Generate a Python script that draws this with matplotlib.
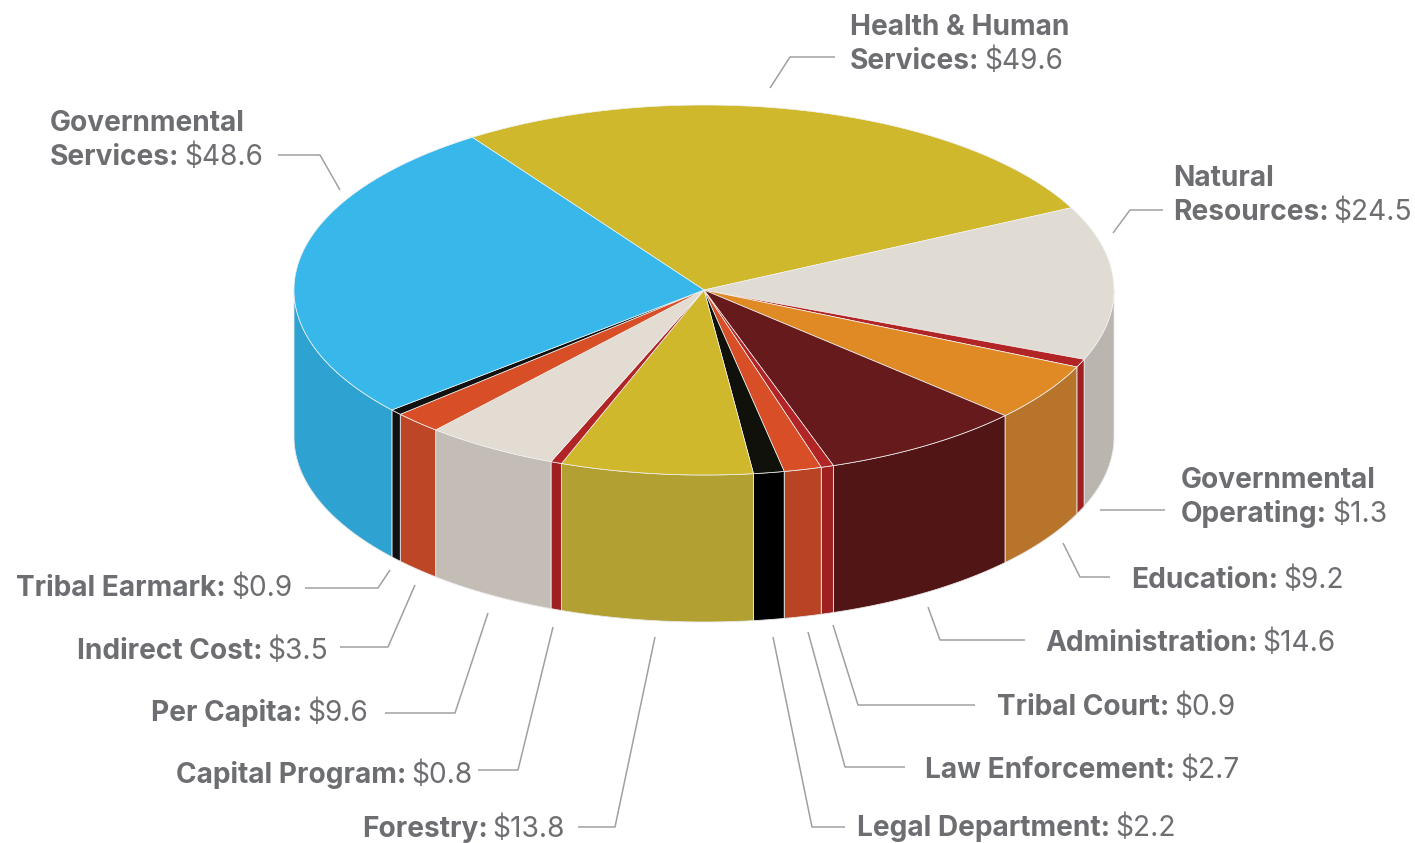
import numpy as np
import matplotlib
matplotlib.use('Agg')
import matplotlib.pyplot as plt
from matplotlib.patches import Polygon

# ---------------- data ----------------
categories = ["Health & Human Services", "Natural Resources", "Governmental Operating",
              "Education", "Administration", "Tribal Court", "Law Enforcement",
              "Legal Department", "Forestry", "Capital Program", "Per Capita",
              "Indirect Cost", "Tribal Earmark", "Governmental Services"]
values = [49.6, 24.5, 1.3, 9.2, 14.6, 0.9, 2.7, 2.2, 13.8, 0.8, 9.6, 3.5, 0.9, 48.6]
value_labels = ["$49.6", "$24.5", "$1.3", "$9.2", "$14.6", "$0.9", "$2.7", "$2.2",
                "$13.8", "$0.8", "$9.6", "$3.5", "$0.9", "$48.6"]
label_lines = [["Health & Human", "Services:"], ["Natural", "Resources:"],
               ["Governmental", "Operating:"], ["Education:"], ["Administration:"],
               ["Tribal Court:"], ["Law Enforcement:"], ["Legal Department:"],
               ["Forestry:"], ["Capital Program:"], ["Per Capita:"], ["Indirect Cost:"],
               ["Tribal Earmark:"], ["Governmental", "Services:"]]

top_colors = ["#CFB82C", "#E1DCD3", "#B22526", "#E08A26", "#661A1B", "#B22526",
              "#D84F27", "#11110C", "#CFB82C", "#B22526", "#E2DCD3", "#D84F27",
              "#111111", "#38B8EA"]
side_colors = ["#B3A033", "#BAB5AE", "#9E2020", "#B8742A", "#521516", "#9E2020",
               "#B94425", "#000000", "#B2A033", "#9E2020", "#C4BDB5", "#BC4626",
               "#111111", "#2EA3D1"]

# ---------------- layout ----------------
W, H = 1415, 843
fig = plt.figure(figsize=(W / 100, H / 100), dpi=100)
ax = fig.add_axes([0, 0, 1, 1])
ax.set_xlim(0, W)
ax.set_ylim(H, 0)
ax.axis('off')

cx, cy, ra, rb, depth = 704, 290, 410, 185, 147
start_angle = 124.4

FONT = 'Inter'
FS = 20.2
GRAY = '#6D6E71'
LINE = '#A0A0A0'


def ell(t_deg, dz=0.0):
    t = np.radians(t_deg)
    return cx + ra * np.cos(t), cy - rb * np.sin(t) + dz


total = sum(values)
bounds = []
a0 = start_angle
for v in values:
    a1 = a0 - 360.0 * v / total
    bounds.append((a1, a0))
    a0 = a1

# side walls (front half: angles in [-180, 0])
for (a1, a0), sc in zip(bounds, side_colors):
    lo, hi = max(a1, -180.0), min(a0, 0.0)
    if hi <= lo:
        continue
    ts = np.linspace(lo, hi, 80)
    topx, topy = ell(ts)
    botx, boty = ell(ts[::-1], depth)
    pts = np.column_stack([np.concatenate([topx, botx]), np.concatenate([topy, boty])])
    ax.add_patch(Polygon(pts, closed=True, facecolor=sc, edgecolor='#E8E8E8',
                         linewidth=0.6, zorder=1))

# top faces
for (a1, a0), tc in zip(bounds, top_colors):
    ts = np.linspace(a0, a1, max(3, int((a0 - a1) * 2)))
    x, y = ell(ts)
    pts = np.column_stack([np.concatenate([[cx], x]), np.concatenate([[cy], y])])
    ax.add_patch(Polygon(pts, closed=True, facecolor=tc, edgecolor='#F2F2F2',
                         linewidth=0.5, zorder=2))

# ---------------- labels ----------------
label_pos = [(850, 69, 'left'), (1173, 220, 'left'), (1181, 522, 'left'),
             (1131, 588, 'left'), (1045, 651, 'left'), (997, 715, 'left'),
             (925, 778, 'left'), (857, 836, 'left'), (565, 837, 'right'),
             (472, 783, 'right'), (368, 721, 'right'), (328, 659, 'right'),
             (292, 596, 'right'), (50, 165, 'left')]
line_gap = 34
GAP = 5
leaders = [[(770, 88), (790, 57), (835, 57)],
           [(1113, 233), (1130, 210), (1163, 210)],
           [(1100, 510), (1165, 510)],
           [(1063, 543), (1080, 577), (1110, 577)],
           [(928, 607), (940, 640), (1025, 640)],
           [(833, 625), (858, 705), (975, 705)],
           [(808, 632), (845, 767), (905, 767)],
           [(773, 637), (812, 827), (845, 827)],
           [(655, 637), (615, 827), (578, 827)],
           [(553, 627), (518, 770), (478, 770)],
           [(488, 613), (455, 713), (385, 713)],
           [(415, 585), (388, 647), (340, 647)],
           [(390, 570), (378, 588), (305, 588)],
           [(340, 190), (320, 155), (278, 155)]]

fig.canvas.draw()
renderer = fig.canvas.get_renderer()

for lines, val, (x, yb, align), pts in zip(label_lines, value_labels, label_pos, leaders):
    n = len(lines)
    for i, ln in enumerate(lines[:-1]):
        ax.text(x, yb - (n - 1 - i) * line_gap, ln, fontsize=FS, fontweight='bold',
                family=FONT, color=GRAY, ha=align, va='baseline')
    if align == 'left':
        tb = ax.text(x, yb, lines[-1], fontsize=FS, fontweight='bold', family=FONT,
                     color=GRAY, ha='left', va='baseline')
        w = tb.get_window_extent(renderer).width
        ax.text(x + w + GAP, yb, val, fontsize=FS, fontweight='normal',
                family=FONT, color=GRAY, ha='left', va='baseline')
    else:
        tv = ax.text(x, yb, val, fontsize=FS, fontweight='normal', family=FONT,
                     color=GRAY, ha='right', va='baseline')
        w = tv.get_window_extent(renderer).width
        ax.text(x - w - GAP, yb, lines[-1], fontsize=FS, fontweight='bold', family=FONT,
                color=GRAY, ha='right', va='baseline')
    xs, ys = zip(*pts)
    ax.plot(xs, ys, color=LINE, linewidth=1.1, zorder=3, solid_capstyle='butt')

fig.savefig('out.png', dpi=100)
